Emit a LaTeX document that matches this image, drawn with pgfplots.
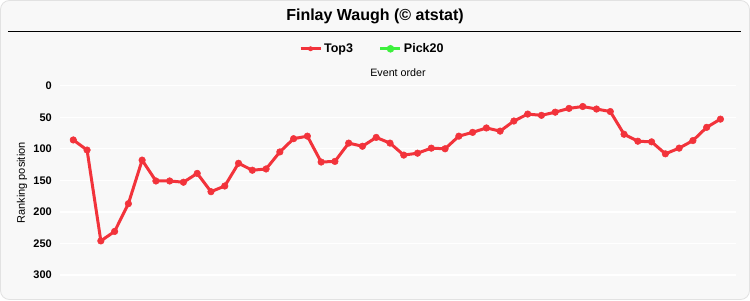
\documentclass[border=0pt]{standalone}
\usepackage{fontspec}
\setmainfont{Liberation Sans}
\usepackage{pgfplots}
\pgfplotsset{compat=1.18}
\usetikzlibrary{backgrounds}
\definecolor{bg}{HTML}{F8F8F8}
\definecolor{frame}{HTML}{E2E2E2}
\definecolor{topred}{HTML}{F2333B}
\definecolor{pickgreen}{HTML}{3DF03D}
\begin{document}
\begin{tikzpicture}[x=1bp,y=1bp]
\begin{axis}[
  name=ax, at={(0,0)}, anchor=south west,
  scale only axis, width=676bp, height=210bp,
  xmin=0.034, xmax=49.13,
  y dir=reverse, ymin=-9.0, ymax=323.8,
  axis line style={draw=none},
  tick style={draw=none},
  xtick=\empty,
  ytick={0,50,100,150,200,250,300},
  ymajorgrids,
  grid style={white, line width=1.3bp},
  yticklabel style={font=\fontsize{11bp}{13bp}\selectfont\bfseries, inner sep=0pt, anchor=east, xshift=-8bp},
  /pgf/number format/assume math mode=true,
  xlabel={Event order},
  xlabel style={font=\fontsize{10.7bp}{13bp}\selectfont, at={(axis description cs:0.5,1.036)}, anchor=center, inner sep=0pt},
  ylabel={Ranking position},
  ylabel style={font=\fontsize{11bp}{13bp}\selectfont, at={(axis description cs:-0.056,0.51)}, anchor=center, inner sep=0pt},
  legend style={at={(axis description cs:0.462,1.1486)}, anchor=center, draw=none, fill=none,
    font=\fontsize{12.5bp}{15bp}\selectfont\bfseries, legend columns=2,
    /tikz/every even column/.append style={column sep=24bp}, inner sep=0pt},
  legend image code/.code={\draw[#1, mark size=2.2bp, mark repeat=2, mark phase=2] plot coordinates {(0bp,0bp) (10bp,0bp) (20bp,0bp)};},
  clip=false,
]
\addplot[topred, line width=3bp, mark=*, mark size=3.3bp, mark options={solid, fill=topred, draw=topred, line width=0.5bp}] coordinates {
(1,86) (2,102) (3,246) (4,231) (5,187) (6,118) (7,151) (8,151) (9,153) (10,139)
(11,168) (12,159) (13,123) (14,134) (15,132) (16,105) (17,84) (18,80) (19,121) (20,120)
(21,91) (22,96) (23,82) (24,91) (25,110) (26,107) (27,99) (28,100) (29,80) (30,74)
(31,67) (32,72) (33,56) (34,45) (35,47) (36,42) (37,36) (38,33) (39,37) (40,41)
(41,77) (42,88) (43,89) (44,108) (45,99) (46,87) (47,66) (48,53)
};
\addlegendentry{Top3}
\addlegendimage{pickgreen, line width=3bp, mark=*, mark options={solid, fill=pickgreen, draw=pickgreen}}
\addlegendentry{Pick20}
\end{axis}
\begin{scope}[shift={(ax.south west)}, xshift=-60bp, yshift=-10bp]
\begin{scope}[on background layer]
\path[fill=white] (0,0) rectangle (750,300);
\draw[rounded corners=9bp, fill=bg, draw=frame, line width=0.8bp] (0.5,0.5) rectangle (749.5,299.5);
\end{scope}
\draw[black, line width=1.3bp] (8,268.5) -- (741,268.5);
\node[font=\fontsize{16bp}{19bp}\selectfont\bfseries, inner sep=0pt] at (375,284) {Finlay Waugh (© atstat)};
\pgfresetboundingbox
\path[use as bounding box] (0,0) rectangle (750,300);
\end{scope}
\end{tikzpicture}
\end{document}
